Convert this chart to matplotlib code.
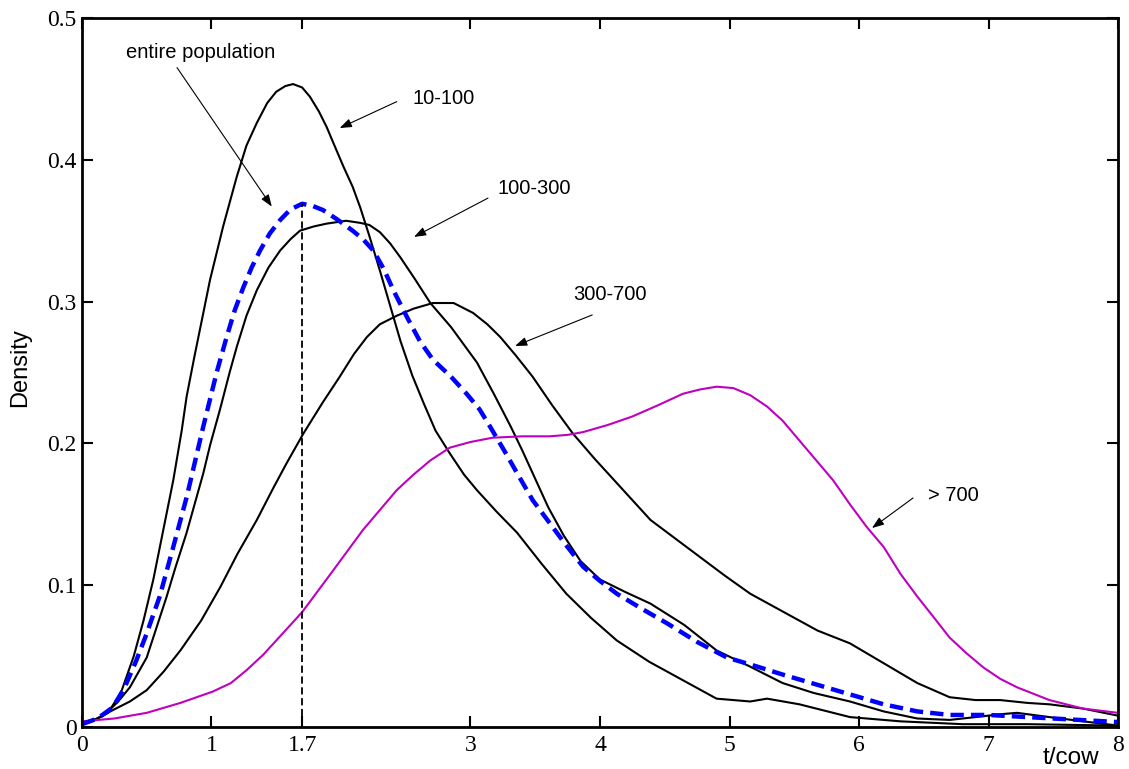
import matplotlib
matplotlib.use("Agg")
import matplotlib.pyplot as plt
import numpy as np

# density curves (x in t/cow)
x_10_100 = [0, 0.1, 0.2, 0.3, 0.4, 0.475, 0.551, 0.628, 0.705, 0.77, 0.808, 0.87, 0.937, 0.988, 1.09, 1.195,
            1.27, 1.35, 1.43, 1.5, 1.57, 1.63, 1.7, 1.76, 1.83, 1.89, 1.95, 2.02, 2.09, 2.15, 2.22, 2.3,
            2.38, 2.46, 2.55, 2.64, 2.73, 2.84, 2.95, 3.05, 3.2, 3.36, 3.55, 3.74, 3.93, 4.13, 4.38, 4.64,
            4.9, 5.16, 5.29, 5.54, 5.93, 6.32, 6.8, 7.3, 8]
y_10_100 = [0.003, 0.005, 0.01, 0.024, 0.05, 0.075, 0.104, 0.139, 0.174, 0.209, 0.233, 0.262, 0.292, 0.315,
            0.353, 0.388, 0.41, 0.426, 0.44, 0.448, 0.452, 0.4534, 0.451, 0.4445, 0.434, 0.423, 0.41, 0.395,
            0.381, 0.366, 0.346, 0.322, 0.297, 0.272, 0.248, 0.228, 0.209, 0.193, 0.178, 0.167, 0.152,
            0.137, 0.115, 0.094, 0.077, 0.061, 0.046, 0.033, 0.02, 0.018, 0.02, 0.016, 0.007, 0.004, 0.002,
            0.002, 0.001]

x_100_300 = [0, 0.1, 0.19, 0.28, 0.37, 0.5, 0.654, 0.72, 0.808, 0.937, 0.99, 1.066, 1.14, 1.195, 1.27,
             1.35, 1.44, 1.53, 1.61, 1.683, 1.79, 1.89, 2.04, 2.15, 2.22, 2.3, 2.38, 2.46, 2.57, 2.69, 2.85,
             3.05, 3.18, 3.31, 3.4, 3.48, 3.6, 3.72, 3.85, 4.0, 4.2, 4.39, 4.65, 4.9, 5.15, 5.41, 5.65, 5.93,
             6.19, 6.45, 6.7, 6.9, 7.09, 7.22, 7.47, 7.73, 8]
y_100_300 = [0.003, 0.005, 0.01, 0.018, 0.028, 0.049, 0.092, 0.112, 0.137, 0.179, 0.199, 0.224, 0.25,
             0.268, 0.29, 0.308, 0.324, 0.336, 0.344, 0.35, 0.353, 0.355, 0.357, 0.3555, 0.354, 0.349, 0.341,
             0.331, 0.316, 0.299, 0.282, 0.257, 0.235, 0.212, 0.195, 0.179, 0.155, 0.135, 0.117, 0.104,
             0.095, 0.087, 0.072, 0.054, 0.043, 0.031, 0.024, 0.018, 0.011, 0.006, 0.005, 0.007, 0.009, 0.01,
             0.007, 0.004, 0.001]

x_300_700 = [0, 0.12, 0.24, 0.37, 0.5, 0.63, 0.76, 0.92, 1.07, 1.2, 1.35, 1.48, 1.58, 1.71, 1.86, 1.99, 2.1,
             2.2, 2.3, 2.43, 2.56, 2.71, 2.87, 3.02, 3.13, 3.23, 3.35, 3.48, 3.63, 3.79, 3.96, 4.13, 4.39,
             4.58, 4.77, 4.96, 5.16, 5.42, 5.68, 5.93, 6.19, 6.45, 6.7, 6.9, 7.09, 7.3, 7.47, 7.73, 8]
y_300_700 = [0.003, 0.006, 0.012, 0.018, 0.026, 0.039, 0.054, 0.075, 0.099, 0.122, 0.146, 0.169, 0.186,
             0.207, 0.229, 0.247, 0.263, 0.275, 0.284, 0.29, 0.295, 0.299, 0.299, 0.292, 0.284, 0.275, 0.262,
             0.247, 0.227, 0.207, 0.189, 0.172, 0.146, 0.133, 0.12, 0.107, 0.094, 0.081, 0.068, 0.059, 0.045,
             0.031, 0.021, 0.019, 0.019, 0.017, 0.016, 0.013, 0.008]

x_all = [0, 0.12, 0.24, 0.33, 0.42, 0.5, 0.6, 0.705, 0.808, 0.937, 1.04, 1.117, 1.18, 1.246, 1.31, 1.375,
         1.45, 1.53, 1.61, 1.7, 1.78, 1.86, 1.97, 2.09, 2.17, 2.25, 2.33, 2.41, 2.51, 2.61, 2.71, 2.85,
         2.97, 3.07, 3.15, 3.26, 3.36, 3.48, 3.61, 3.74, 3.87, 4.0, 4.13, 4.33, 4.52, 4.75, 4.98, 5.2, 5.41,
         5.67, 5.93, 6.19, 6.45, 6.7, 7.0, 7.3, 7.6, 8]
y_all = [0.002, 0.006, 0.014, 0.028, 0.047, 0.066, 0.092, 0.127, 0.162, 0.212, 0.25, 0.275, 0.294, 0.31,
         0.324, 0.336, 0.348, 0.3575, 0.365, 0.369, 0.3675, 0.3646, 0.358, 0.35, 0.344, 0.336, 0.323,
         0.307, 0.289, 0.272, 0.259, 0.247, 0.235, 0.224, 0.212, 0.195, 0.179, 0.16, 0.144, 0.128, 0.113,
         0.103, 0.094, 0.083, 0.073, 0.06, 0.049, 0.043, 0.037, 0.03, 0.023, 0.016, 0.011, 0.0085, 0.0085,
         0.007, 0.0055, 0.0035]

x_700 = [0, 0.25, 0.5, 0.76, 1.01, 1.15, 1.27, 1.4, 1.53, 1.7, 1.92, 2.17, 2.43, 2.56, 2.69, 2.84, 3.0, 3.17,
         3.4, 3.61, 3.75, 3.87, 4.06, 4.25, 4.45, 4.64, 4.77, 4.9, 5.03, 5.16, 5.29, 5.41, 5.54, 5.67, 5.8,
         5.93, 6.06, 6.19, 6.32, 6.45, 6.58, 6.7, 6.83, 6.96, 7.09, 7.22, 7.47, 7.73, 8]
y_700 = [0.004, 0.006, 0.01, 0.017, 0.025, 0.031, 0.04, 0.051, 0.064, 0.081, 0.108, 0.139, 0.167, 0.178,
         0.188, 0.197, 0.201, 0.204, 0.205, 0.205, 0.206, 0.208, 0.213, 0.219, 0.227, 0.235, 0.238, 0.24,
         0.239, 0.234, 0.226, 0.216, 0.202, 0.188, 0.174, 0.157, 0.141, 0.127, 0.108, 0.092, 0.077, 0.063,
         0.052, 0.042, 0.034, 0.028, 0.019, 0.013, 0.01]

xticks = [0, 1, 1.7, 3, 4, 5, 6, 7, 8]
xtick_labels = ["0", "1", "1.7", "3", "4", "5", "6", "7", "8"]
yticks = [0, 0.1, 0.2, 0.3, 0.4, 0.5]
ytick_labels = ["0", "0.1", "0.2", "0.3", "0.4", "0.5"]

# label text, text position, arrow tail, arrow head (data coords)
notes = [
    ("entire population", (0.92, 0.476), (0.734, 0.465), (1.466, 0.367), "center"),
    ("10-100", (2.55, 0.443), (2.43, 0.441), (1.99, 0.4224), "left"),
    ("100-300", (3.21, 0.380), (3.135, 0.373), (2.564, 0.3456), "left"),
    ("300-700", (3.79, 0.305), (3.94, 0.2906), (3.344, 0.2687), "left"),
    ("> 700", (6.53, 0.1636), (6.417, 0.1615), (6.10, 0.1403), "left"),
]

sans = "Liberation Sans"
serif = "Liberation Serif"

fig = plt.figure(figsize=(11.29, 7.69), dpi=100)
ax = fig.add_axes([0.0726, 0.0546, 0.9177, 0.922])

ax.plot(x_10_100, y_10_100, color="black", lw=1.5)
ax.plot(x_100_300, y_100_300, color="black", lw=1.5)
ax.plot(x_300_700, y_300_700, color="black", lw=1.5)
ax.plot(x_700, y_700, color="#bf00bf", lw=1.5)
ax.plot(x_all, y_all, color="#0000ff", lw=3.2, linestyle=(0, (3, 1.6)))

# mode of the whole population
i_peak = int(np.argmax(y_all))
ax.vlines(x_all[i_peak], 0, y_all[i_peak], colors="black", lw=1.3, linestyles=(0, (4, 2)))

for text, pos, tail, head, ha in notes:
    ax.text(pos[0], pos[1], text, fontsize=14.5, family=sans, ha=ha, va="center")
    ax.annotate("", xy=head, xytext=tail,
                arrowprops=dict(arrowstyle="-|>,head_length=0.6,head_width=0.22", color="black",
                                lw=0.8, shrinkA=0, shrinkB=0, mutation_scale=12))

ax.set_xlim(0, 8)
ax.set_ylim(0, 0.5)
ax.set_xticks(xticks)
ax.set_xticklabels(xtick_labels, fontsize=17, family=serif)
ax.set_yticks(yticks)
ax.set_yticklabels(ytick_labels, fontsize=17, family=serif)
ax.tick_params(direction="in", length=8, width=1.5, top=True, right=True)
ax.tick_params(axis="x", pad=6)
ax.tick_params(axis="y", pad=4)
for sp in ax.spines.values():
    sp.set_linewidth(2)

fig.text(20 / 1129, 1 - 368 / 769, "Density", rotation=90, ha="center", va="center",
         fontsize=17, family=sans)
ax.text(0.955, -0.052, "t/cow", transform=ax.transAxes, ha="center", va="baseline",
        fontsize=17.5, family=sans)

fig.savefig("out.png", dpi=100)
